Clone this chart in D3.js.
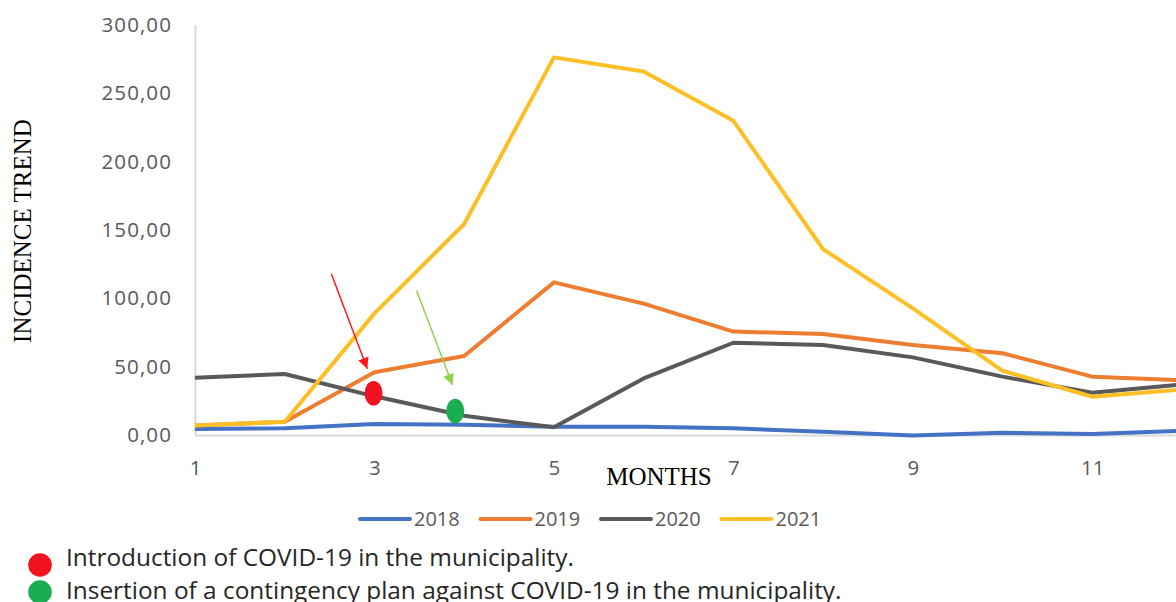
<!DOCTYPE html>
<html>
<head>
<meta charset="utf-8">
<script src="https://cdn.jsdelivr.net/npm/d3@7"></script>
<style>
  html, body { margin: 0; padding: 0; background: #fff; }
  svg { display: block; }
</style>
</head>
<body>
<svg id="chart" width="1176" height="602"></svg>
<script>
// Monthly incidence trend per year
const months = [1, 2, 3, 4, 5, 6, 7, 8, 9, 10, 11, 12];
const years = ["2018", "2019", "2020", "2021"];
const values2018 = [4.4, 4.9, 8.0, 7.5, 6.0, 6.0, 4.9, 2.4, -0.3, 1.7, 0.7, 3.0];
const values2019 = [7.0, 9.7, 45.9, 57.8, 111.7, 96.1, 75.7, 73.9, 65.8, 59.8, 42.7, 40.0];
const values2020 = [41.9, 44.6, 28.3, 14.1, 5.6, 41.4, 67.5, 65.8, 56.8, 42.7, 30.9, 37.0];
const values2021 = [7.0, 9.7, 89.0, 154.4, 276.3, 266.0, 229.9, 136.0, 92.7, 47.0, 28.0, 33.3];
const xTickLabels = [1, 3, 5, 7, 9, 11];
const yTickValues = [0, 50, 100, 150, 200, 250, 300];
const colors = ["#4472C4", "#ED7D31", "#595959", "#FDBF26"];

// Event markers: where they sit and where their arrows start
const eventNames = ["Introduction of COVID-19 in the municipality.",
                    "Insertion of a contingency plan against COVID-19 in the municipality."];
const eventColors = ["#F0131F", "#1AAE50"];
const arrowColors = ["#FF1A1A", "#92D050"];
const eventMonth = [2.99, 3.90];
const eventValue = [30.5, 17.6];
const arrowFromMonth = [2.52, 3.47];
const arrowFromValue = [117.8, 105.6];
const arrowToMonth = [2.92, 3.87];
const arrowToValue = [48.5, 36.6];

const series = [values2018, values2019, values2020, values2021];

const svg = d3.select("#chart");
const x = d3.scaleLinear().domain([1, 12]).range([195, 1182]);
const y = d3.scaleLinear().domain([0, 300]).range([435, 25]);

const tickFont = "'Open Sans', sans-serif";
const fmt = v => d3.format(".2f")(v).replace(".", ",");

// Y axis
const yAxis = svg.append("g")
  .attr("transform", `translate(${x(1)},0)`)
  .call(d3.axisLeft(y).tickValues(yTickValues).tickSize(0).tickPadding(23).tickFormat(fmt));
yAxis.select(".domain").attr("stroke", "#d9d9d9").attr("stroke-width", 2);
yAxis.selectAll("text").attr("font-family", tickFont).attr("font-size", 20.5)
  .attr("letter-spacing", 1.1).attr("fill", "#595959");

// X axis at zero
const xAxis = svg.append("g")
  .attr("transform", `translate(0,${y(0)})`)
  .call(d3.axisBottom(x).tickValues(xTickLabels).tickSize(0).tickPadding(25).tickFormat(d3.format("d")));
xAxis.select(".domain").attr("stroke", "#d9d9d9").attr("stroke-width", 2);
xAxis.selectAll("text").attr("font-family", tickFont).attr("font-size", 20.5).attr("fill", "#595959");

// Series lines
const line = d3.line().x((d, i) => x(months[i])).y(d => y(d));
series.forEach((vals, k) => {
  svg.append("path")
    .datum(vals)
    .attr("d", line)
    .attr("fill", "none")
    .attr("stroke", colors[k])
    .attr("stroke-width", 4)
    .attr("stroke-linejoin", "round");
});

// Arrowheads
const defs = svg.append("defs");
arrowColors.forEach((c, i) => {
  defs.append("marker")
    .attr("id", "head" + i)
    .attr("viewBox", "0 0 10 10")
    .attr("refX", 10).attr("refY", 5)
    .attr("markerWidth", 11).attr("markerHeight", 11)
    .attr("markerUnits", "userSpaceOnUse")
    .attr("orient", "auto")
    .append("path").attr("d", "M0,0 L10,5 L0,10 Z").attr("fill", c);
});

// Annotation arrows and event dots
eventNames.forEach((n, i) => {
  const x1 = x(arrowFromMonth[i]), y1 = y(arrowFromValue[i]);
  const x2 = x(arrowToMonth[i]), y2 = y(arrowToValue[i]);
  svg.append("line")
    .attr("x1", x1).attr("y1", y1).attr("x2", x2).attr("y2", y2)
    .attr("stroke", arrowColors[i]).attr("stroke-width", 1.5)
    .attr("marker-end", `url(#head${i})`);
  svg.append("ellipse")
    .attr("cx", x(eventMonth[i])).attr("cy", y(eventValue[i]))
    .attr("rx", 9).attr("ry", 12.3)
    .attr("fill", eventColors[i]);
});

// Axis titles
svg.append("text")
  .attr("x", 659).attr("y", 485)
  .attr("text-anchor", "middle")
  .attr("font-family", "'Liberation Serif', 'Times New Roman', serif")
  .attr("font-size", 25).attr("fill", "#000")
  .text("MONTHS");
svg.append("text")
  .attr("transform", "translate(31,231) rotate(-90)")
  .attr("text-anchor", "middle")
  .attr("font-family", "'Liberation Serif', 'Times New Roman', serif")
  .attr("font-size", 25).attr("fill", "#000")
  .text("INCIDENCE TREND");

// Series legend
const legend = svg.append("g").attr("transform", "translate(360,519)");
const legendStep = 120.5;
years.forEach((yr, k) => {
  const g = legend.append("g").attr("transform", `translate(${k * legendStep},0)`);
  g.append("line").attr("x1", 0).attr("x2", 50).attr("y1", 0).attr("y2", 0)
    .attr("stroke", colors[k]).attr("stroke-width", 4).attr("stroke-linecap", "round");
  g.append("text").attr("x", 54).attr("y", 0).attr("dy", "0.35em")
    .attr("font-family", tickFont).attr("font-size", 20).attr("fill", "#595959")
    .text(yr);
});

// Event notes
const noteDotY = [565, 592];
const noteTextY = [566, 599];
eventNames.forEach((n, i) => {
  svg.append("circle")
    .attr("cx", 40).attr("cy", noteDotY[i]).attr("r", 11.8)
    .attr("fill", eventColors[i]);
  svg.append("text")
    .attr("x", 66).attr("y", noteTextY[i])
    .attr("font-family", tickFont).attr("font-size", 24.4).attr("fill", "#262626")
    .text(n);
});
</script>
</body>
</html>
